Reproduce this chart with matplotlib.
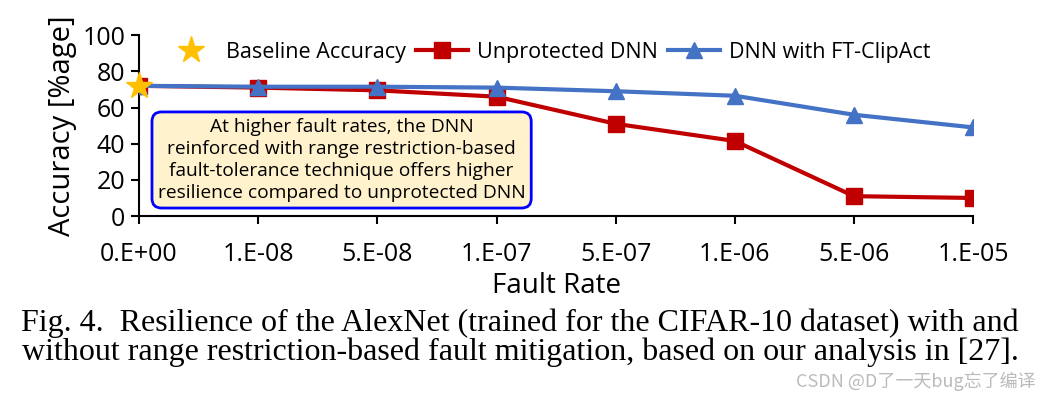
import matplotlib
matplotlib.use("Agg")
import matplotlib.pyplot as plt
import numpy as np

# data
fault_rates = ["0.E+00", "1.E-08", "5.E-08", "1.E-07", "5.E-07", "1.E-06", "5.E-06", "1.E-05"]
unprotected = [72, 71, 69.5, 66, 51, 41.5, 11, 10]
ft_clipact = [72, 71.5, 71.5, 71, 69, 66.5, 56, 49]
baseline = [72]

sans = ["Open Sans", "DejaVu Sans"]
plt.rcParams['font.family'] = sans

fig = plt.figure(figsize=(10.4, 3.95), dpi=100)
ax = fig.add_axes([0.1337, 0.453, 0.8020, 0.458])

x = np.arange(len(fault_rates))
ax.plot(x, unprotected, color="#C00000", lw=3, marker="s", ms=11, label="Unprotected DNN", zorder=3)
ax.plot(x, ft_clipact, color="#4472C4", lw=3, marker="^", ms=11, label="DNN with FT-ClipAct", zorder=4)
ax.plot(x[:1], baseline, ls="none", marker="*", ms=20, color="#FFC000", label="Baseline Accuracy",
        zorder=5, clip_on=False)

ax.set_xlim(0, len(fault_rates) - 1)
ax.set_ylim(0, 100)
ax.set_yticks(range(0, 101, 20))
ax.set_xticks(x)
ax.set_xticklabels(fault_rates)
ax.tick_params(axis="both", labelsize=18, direction="out", length=6, width=1.5)
ax.tick_params(axis="x", pad=13)
ax.tick_params(axis="y", pad=4)
for s in ["top", "right"]:
    ax.spines[s].set_visible(False)
for s in ["left", "bottom"]:
    ax.spines[s].set_linewidth(1.5)
ax.spines["bottom"].set_position(("data", 0))

ax.set_xlabel("Fault Rate", fontsize=20, labelpad=3)
ax.set_ylabel("Accuracy [%age]", fontsize=21, labelpad=4)

h, l = ax.get_legend_handles_labels()
order = [2, 0, 1]
ax.legend([h[i] for i in order], [l[i] for i in order], loc="upper center",
          bbox_to_anchor=(0.49, 1.07), ncol=3, frameon=False, fontsize=15.5,
          handlelength=2.4, columnspacing=0.5, handletextpad=0.4)

ax.text(1.7, 31, "At higher fault rates, the DNN\nreinforced with range restriction-based\n"
        "fault-tolerance technique offers higher\nresilience compared to unprotected DNN",
        ha="center", va="center", fontsize=13.8, linespacing=1.3, zorder=6,
        bbox=dict(boxstyle="round,pad=0.3,rounding_size=0.5", fc="#FFF2CC", ec="#0000FF", lw=2))

fig.text(0.5, 0.145, "Fig. 4.  Resilience of the AlexNet (trained for the CIFAR-10 dataset) with and\n"
         "without range restriction-based fault mitigation, based on our analysis in [27].",
         ha="center", va="center", fontsize=23, family="Liberation Serif", linespacing=0.95)

fig.text(0.996, 0.01, "CSDN @D了一天bug忘了编译", ha="right", va="bottom", fontsize=13,
         color="#BBBBBB", family=["Noto Sans CJK SC", "DejaVu Sans"])

fig.savefig("out.png", dpi=100)
